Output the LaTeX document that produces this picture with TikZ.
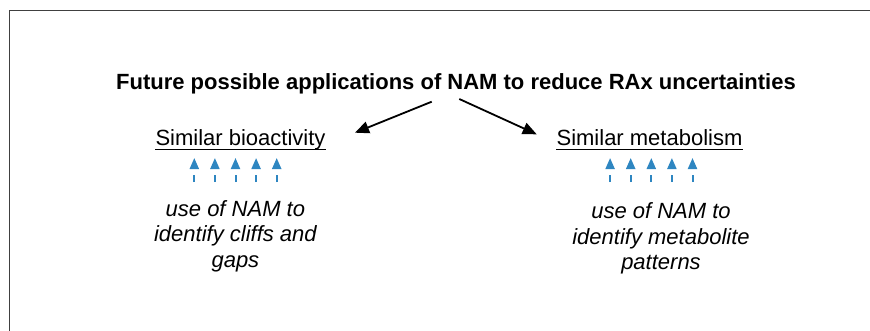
\documentclass[tikz,border=0pt]{standalone}
\usepackage{fontspec}
\setmainfont{Liberation Sans}
\usetikzlibrary{arrows.meta}
\definecolor{framegray}{RGB}{64,64,64}
\definecolor{hintblue}{RGB}{46,134,193}
\tikzset{
  heading/.style={inner sep=0pt, anchor=base, font=\fontsize{22}{26}\selectfont},
  note/.style={inner sep=0pt, anchor=base, align=center, font=\itshape\fontsize{22}{25.5}\selectfont},
  mainarrow/.style={line width=1.8pt, -{Triangle[length=14pt,width=12pt]}},
  hintarrow/.style={hintblue, line width=2pt, dash pattern=on 7pt off 10pt,
    -{Triangle[length=11pt,width=9pt]}},
  ruling/.style={line width=1.3pt}
}
\begin{document}
\begin{tikzpicture}[x=1pt,y=-1pt]
  \useasboundingbox (0,0) rectangle (870,330);
  % frame (open towards the lower right)
  \draw[framegray, line width=1.3pt] (9.5,335) -- (9.5,10.5) -- (875,10.5);

  % title
  \node[heading, font=\bfseries\fontsize{22}{26}\selectfont] (title) at (456,89)
    {Future possible applications of NAM to reduce RAx uncertainties};

  % the two branches
  \node[heading] (bio) at (240.5,145) {Similar bioactivity};
  \node[heading] (met) at (649.5,145) {Similar metabolism};
  \draw[ruling] ([yshift=-4.3pt]bio.base west) -- ([yshift=-4.3pt]bio.base east);
  \draw[ruling] ([yshift=-4.3pt]met.base west) -- ([yshift=-4.3pt]met.base east);

  % arrows from the title towards each branch
  \coordinate (lstart) at (431.7,101.7);
  \coordinate (lend) at (355,132.7);
  \coordinate (rstart) at (459.3,99);
  \coordinate (rend) at (536.7,134.3);
  \draw[mainarrow] (lstart) -- (lend);
  \draw[mainarrow] (rstart) -- (rend);

  % dashed blue arrows pointing up at each branch
  \foreach \dx in {-41.2,-20.6,0,20.6,41.2} {
    \coordinate (bl) at (235.5+\dx,182);
    \coordinate (bt) at (235.5+\dx,158);
    \draw[hintarrow] (bl) -- (bt);
    \coordinate (ml) at (651.3+\dx,182);
    \coordinate (mt) at (651.3+\dx,158);
    \draw[hintarrow] (ml) -- (mt);
  }

  % notes under the arrows
  \node[note] (bionote) at (235.4,267) {use of NAM to\\identify cliffs and\\gaps};
  \node[note] (metnote) at (661,269.5) {use of NAM to\\identify metabolite\\patterns};
\end{tikzpicture}
\end{document}
